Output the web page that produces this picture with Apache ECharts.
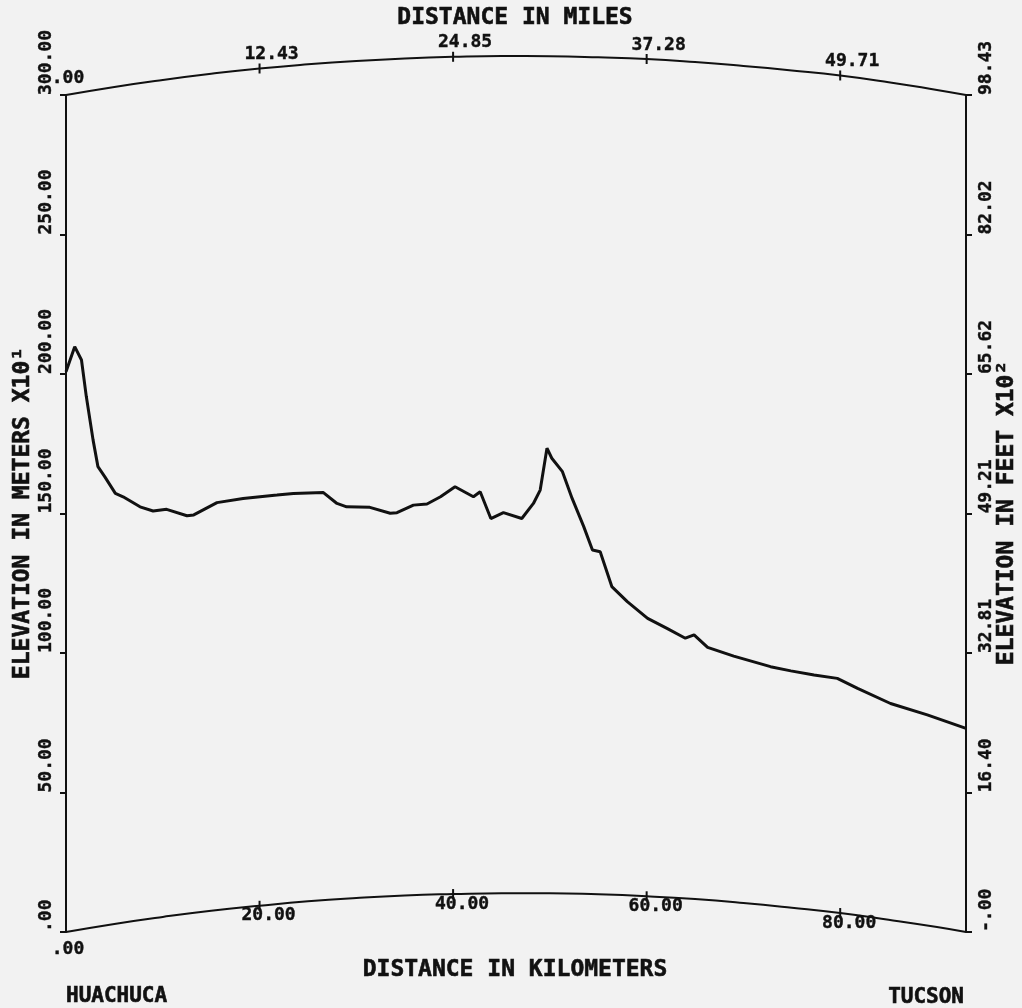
<!DOCTYPE html>
<html><head><meta charset="utf-8">
<script src="https://cdn.jsdelivr.net/npm/echarts/dist/echarts.min.js"></script>
<style>html,body{margin:0;padding:0;background:#f2f2f2}#c{width:1022px;height:1008px}</style>
</head><body><div id="c"></div>
<script>
// Terrain profile (distance km, elevation x10 m as plotted)
const profKm = [0, 0.9, 1.6, 2.1, 2.8, 3.3, 4.0, 5.1, 5.9, 7.65, 9.0, 10.4, 12.5, 13.2, 15.6, 18.3, 21.8, 23.5, 26.6, 28.0, 29.0, 31.4, 33.5, 34.2, 35.9, 37.3, 38.7, 40.2, 42.1, 42.8, 43.9, 45.2, 47.1, 48.3, 49.0, 49.7, 50.2, 51.3, 52.3, 53.5, 54.4, 55.2, 56.4, 58.0, 60.1, 62.1, 64.0, 64.9, 66.3, 69.0, 72.8, 74.9, 77.3, 79.7, 81.8, 85.2, 89.0, 93.0];
const profElev = [200.8, 209.8, 205.0, 191.9, 176.3, 166.8, 163.2, 157.2, 156.0, 152.4, 150.9, 151.5, 149.2, 149.5, 153.9, 155.4, 156.6, 157.2, 157.5, 153.6, 152.4, 152.2, 150.1, 150.3, 153.0, 153.4, 156.0, 159.6, 156.0, 157.8, 148.2, 150.3, 148.2, 153.6, 158.4, 173.4, 169.8, 165.0, 155.4, 145.3, 136.9, 136.3, 123.8, 118.4, 112.4, 108.8, 105.3, 106.5, 102.0, 98.9, 95.1, 93.6, 92.1, 90.9, 87.3, 81.9, 77.8, 73.0];

// Curved (earth-bulge) frame edges
const edgeKm = [0, 5, 10, 15, 20, 25, 30, 35, 40, 45, 50, 55, 60, 65, 70, 75, 80, 85, 90, 93];
const bottomEdge = [0, 2.9, 5.4, 7.6, 9.4, 11.0, 12.2, 13.1, 13.6, 13.9, 13.9, 13.5, 12.8, 11.8, 10.4, 8.7, 6.8, 4.4, 1.8, 0];
const topEdge = [300, 302.9, 305.4, 307.6, 309.5, 311.0, 312.2, 313.1, 313.7, 314.0, 313.9, 313.5, 312.9, 311.8, 310.4, 308.8, 307.0, 304.6, 301.8, 300];

// Tick labels
const tickKm = [0, 20, 40, 60, 80];
const kmLabels = ['.00', '20.00', '40.00', '60.00', '80.00'];
const mileLabels = ['.00', '12.43', '24.85', '37.28', '49.71'];
const meterLabels = ['.00', '50.00', '100.00', '150.00', '200.00', '250.00', '300.00'];
const feetLabels = ['-.00', '16.40', '32.81', '49.21', '65.62', '82.02', '98.43'];

const FONT = '"DejaVu Sans Mono", monospace';
const INK = '#111';

function edgeAt(arr, km) { return arr[edgeKm.indexOf(km)]; }

function tickSeries(edge, labels, pos) {
  return {
    type: 'scatter',
    symbol: 'rect',
    symbolSize: [2, 10],
    clip: false,
    silent: true,
    itemStyle: { color: INK, opacity: 1 },
    label: {
      show: true,
      position: pos,
      distance: 0,
      offset: pos === 'bottom' ? [9, -4] : [12, 0],
      color: INK,
      fontFamily: FONT,
      fontWeight: 'bold',
      fontSize: 18,
      textBorderColor: INK,
      textBorderWidth: 0.4,
      formatter: p => labels[p.dataIndex]
    },
    data: tickKm.map((k, i) => {
      const item = { value: [k, edgeAt(edge, k)] };
      if (k === 0) {
        item.symbolSize = 0;
        item.label = { offset: [2, pos === 'bottom' ? 8 : -8] };
      }
      return item;
    })
  };
}

function axisLabelCfg(labels, vAlign) {
  return {
    rotate: 90, margin: 11, align: 'left', verticalAlign: vAlign,
    color: INK, fontFamily: FONT, fontWeight: 'bold', fontSize: 18,
    textBorderColor: INK, textBorderWidth: 0.4,
    formatter: v => labels[Math.round(v / 50)]
  };
}

function titleText(text, x, y, size, align, rot) {
  return {
    type: 'text', x: x, y: y, rotation: rot || 0, silent: true,
    style: {
      text: text, align: align, verticalAlign: 'middle',
      font: 'bold ' + size + 'px ' + FONT, fill: INK,
      stroke: INK, lineWidth: 0.6
    }
  };
}

const chart = echarts.init(document.getElementById('c'));
chart.setOption({
  backgroundColor: '#f2f2f2',
  animation: false,
  grid: { left: 66, right: 56, top: 95, bottom: 76 },
  xAxis: {
    type: 'value', min: 0, max: 93,
    axisLine: { show: false }, axisTick: { show: false },
    axisLabel: { show: false }, splitLine: { show: false }
  },
  yAxis: [
    {
      type: 'value', min: 0, max: 300, interval: 50, position: 'left',
      axisLine: { show: true, lineStyle: { color: INK, width: 2 } },
      axisTick: { show: true, length: 6, lineStyle: { color: INK, width: 2 } },
      splitLine: { show: false },
      axisLabel: axisLabelCfg(meterLabels, 'bottom')
    },
    {
      type: 'value', min: 0, max: 300, interval: 50, position: 'right',
      axisLine: { show: true, lineStyle: { color: INK, width: 2 } },
      axisTick: { show: true, length: 6, lineStyle: { color: INK, width: 2 } },
      splitLine: { show: false },
      axisLabel: axisLabelCfg(feetLabels, 'top')
    }
  ],
  series: [
    {
      type: 'line', name: 'profile', showSymbol: false, symbol: 'none', clip: false,
      lineStyle: { color: INK, width: 3 },
      data: profKm.map((k, i) => [k, profElev[i]])
    },
    {
      type: 'line', name: 'bottom', showSymbol: false, symbol: 'none', clip: false, smooth: true,
      lineStyle: { color: INK, width: 2 },
      data: edgeKm.map((k, i) => [k, bottomEdge[i]])
    },
    {
      type: 'line', name: 'top', showSymbol: false, symbol: 'none', clip: false, smooth: true,
      lineStyle: { color: INK, width: 2 },
      data: edgeKm.map((k, i) => [k, topEdge[i]])
    },
    tickSeries(bottomEdge, kmLabels, 'bottom'),
    tickSeries(topEdge, mileLabels, 'top')
  ],
  graphic: [
    titleText('DISTANCE IN MILES', 515, 18, 23, 'center'),
    titleText('DISTANCE IN KILOMETERS', 515, 970, 23, 'center'),
    titleText('ELEVATION IN METERS X10¹', 23, 513, 23, 'center', Math.PI / 2),
    titleText('ELEVATION IN FEET X10²', 1007, 513, 23, 'center', Math.PI / 2),
    titleText('HUACHUCA', 66, 997, 21, 'left'),
    titleText('TUCSON', 964, 998, 21, 'right')
  ]
});
</script>
</body></html>
